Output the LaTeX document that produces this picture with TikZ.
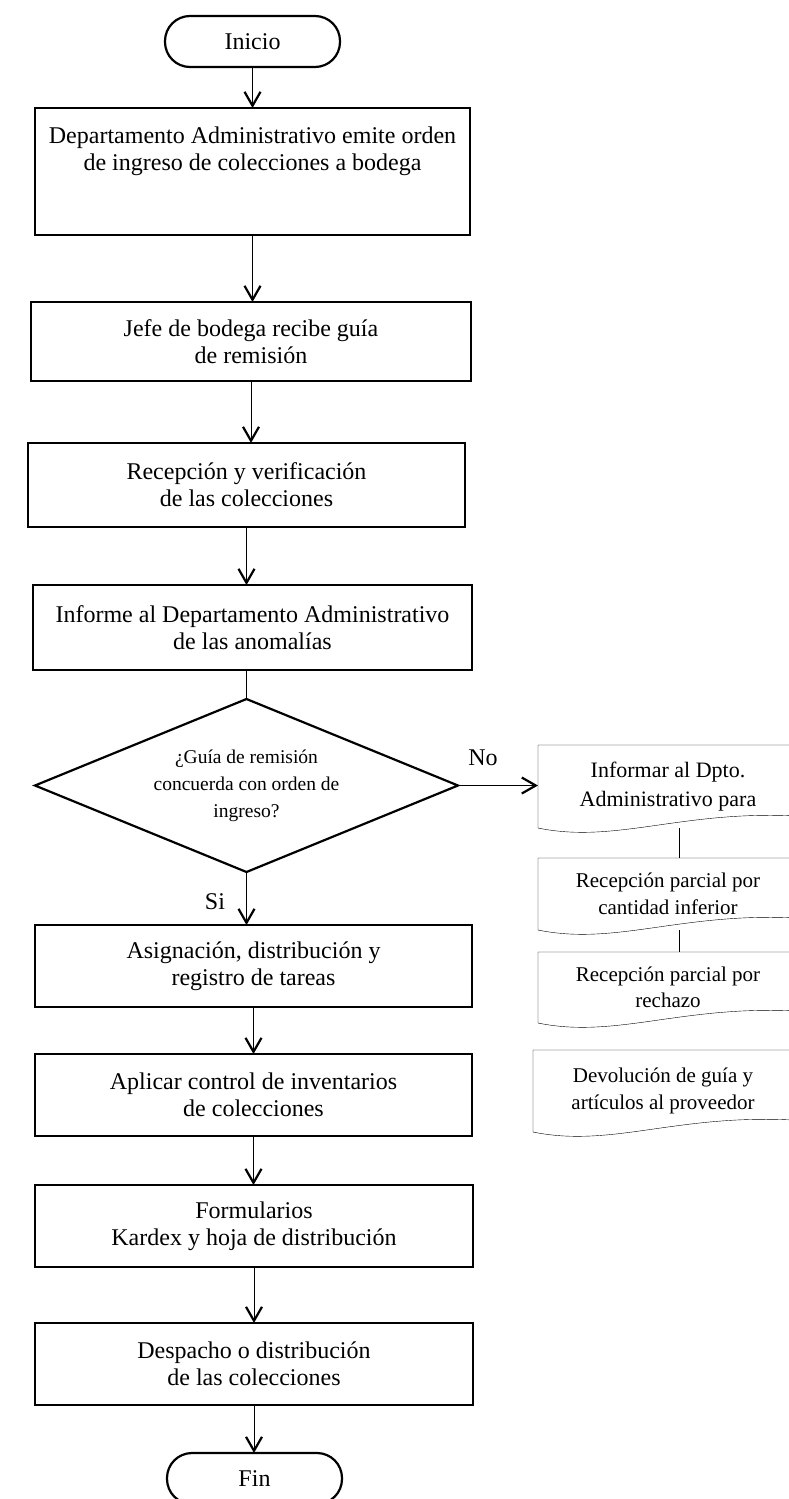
\documentclass[tikz,border=0pt]{standalone}
\usepackage{fontspec}
\setmainfont{Liberation Serif}
\usetikzlibrary{shapes.geometric,arrows.meta,calc}
\pgfdeclarelayer{bg}
\pgfsetlayers{bg,main}
\newcommand\mydocshape[1]{%
  \draw[fill=white] (#1.south west) -- (#1.north west) -- (#1.north east) --
    ($(#1.south east)+(0,-12)$) .. controls ($(#1.south west)!0.55!(#1.south east)+(0,-18)$)
    and ($(#1.south west)!0.3!(#1.south east)+(0,16)$) .. (#1.south west) -- cycle;}
\begin{document}
\begin{tikzpicture}[x=1pt,y=-1pt,
  line width=2.2pt,
  every node/.style={inner sep=0pt, outer sep=0pt},
  mainfont/.style={font=\fontsize{24}{27}\selectfont},
  procbox/.style={draw, line width=2.2pt, rectangle, align=center, mainfont},
  term/.style={draw, line width=2.2pt, rectangle, rounded corners=25pt, mainfont, minimum width=175pt, minimum height=51pt},
  decision/.style={draw, line width=2.2pt, diamond, aspect=2.445, align=center, font=\fontsize{19.5}{27}\selectfont},
  docnode/.style={rectangle, align=center, minimum width=260pt},
  docA/.style={docnode, font=\fontsize{22}{29}\selectfont},
  docB/.style={docnode, font=\fontsize{21}{26.5}\selectfont},
  arr/.style={-{Straight Barb[length=14pt,width=16pt,line width=2.2pt]}},
  lbl/.style={mainfont}
]
\useasboundingbox (0,0) rectangle (789,1499);

% main column
\node[term] (start) at (252.5,41.5) {Inicio};
\node[procbox, minimum width=435pt, minimum height=127pt] (b1) at (252.5,171.5) {};
\node[align=center, mainfont] (b1t) at (252.5,151) {Departamento Administrativo emite orden\\de ingreso de colecciones a bodega};
\node[procbox, minimum width=440pt, minimum height=79pt] (b2) at (251,341.5) {Jefe de bodega recibe guía\\de remisión};
\node[procbox, minimum width=437pt, minimum height=84pt] (b3) at (246.5,485) {Recepción y verificación\\de las colecciones};
\node[procbox, minimum width=439pt, minimum height=85pt] (b4) at (252.5,627.5) {Informe al Departamento Administrativo\\de las anomalías};
\node[decision, minimum width=423pt, minimum height=173pt] (q) at (246.5,785.5) {¿Guía de remisión\\concuerda con orden de\\ingreso?};
\node[procbox, minimum width=437pt, minimum height=82pt] (b5) at (253.5,966) {Asignación, distribución y\\registro de tareas};
\node[procbox, minimum width=437pt, minimum height=82pt] (b6) at (253.5,1095) {Aplicar control de inventarios\\de colecciones};
\node[procbox, minimum width=438pt, minimum height=82pt] (b7) at (254,1226) {Formularios\\Kardex y hoja de distribución};
\node[procbox, minimum width=438pt, minimum height=82pt] (b8) at (254,1364) {Despacho o distribución\\de las colecciones};
\node[term] (fin) at (254.5,1478.5) {Fin};

% right column (documents)
\node[docA, minimum height=83pt] (d1) at (668,786.5) {Informar al Dpto.\\Administrativo para};
\node[docB, minimum height=72pt] (d2) at (668,894) {Recepción parcial por\\cantidad inferior};
\node[docB, minimum height=71pt] (d3) at (668,987.5) {Recepción parcial por\\rechazo};
\node[docB, minimum height=82pt] (d4) at (663,1091) {Devolución de guía y\\artículos al proveedor};

\begin{pgfonlayer}{bg}
  \draw ($(d1.south)+(11,0)$) -- ($(d2.north)+(11,0)$);
  \draw ($(d2.south)+(11,0)$) -- ($(d3.north)+(11,0)$);
  \draw ($(d3.south)+(11,0)$) -- ($(d3.south)+(11,0)$ |- d4.north);
  \mydocshape{d1}
  \mydocshape{d2}
  \mydocshape{d3}
  \mydocshape{d4}
\end{pgfonlayer}

% connectors
\draw[arr] (start.south) -- (start.south |- b1.north);
\draw[arr] (b1.south) -- (b1.south |- b2.north);
\draw[arr] (b2.south) -- (b2.south |- b3.north);
\draw[arr] (b3.south) -- (b3.south |- b4.north);
\draw (q.north |- b4.south) -- (q.north);
\draw[arr] (q.south) -- (q.south |- b5.north);
\draw[arr] (q.east) -- (q.east -| d1.west);
\draw[arr] (b5.south) -- (b5.south |- b6.north);
\draw[arr] (b6.south) -- (b6.south |- b7.north);
\draw[arr] (b7.south) -- (b7.south |- b8.north);
\draw[arr] (b8.south) -- (b8.south |- fin.north);

\node[lbl] (no) at (483,758) {No};
\node[lbl] (si) at (215,902) {Si};
\end{tikzpicture}
\end{document}
